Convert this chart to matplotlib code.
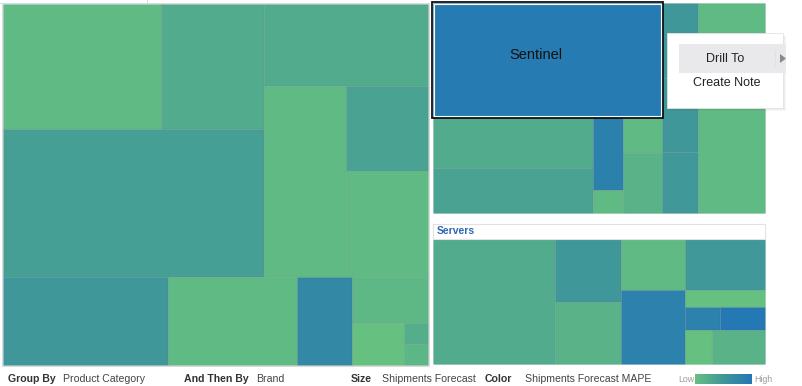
"""Shipments forecast treemap - grouped by product category, then by brand"""
import matplotlib
matplotlib.use("Agg")
import matplotlib.pyplot as plt
from matplotlib.patches import Rectangle, Polygon
from matplotlib.colors import LinearSegmentedColormap, Normalize
import numpy as np

plt.rcParams["font.family"] = ["Liberation Sans", "DejaVu Sans"]

# =============================================
#  Data (size = Shipments Forecast, color = MAPE %)
# =============================================
# group 1 (left, header cut off)
g1_ship = [198, 129, 386, 134, 157, 70, 87, 145, 113, 48, 35, 22, 5, 5]
g1_mape = [11.5, 15.2, 18.2, 15.2, 11.5, 17.2, 11.5, 20.0, 11.5, 24.4, 12.0, 10.0, 14.4, 12.4]

# group 2 (top right) - first brand is Sentinel
g2_brands = ["Sentinel", "", "", "", "", "", "", "", "", "", ""]
g2_ship = [261, 82, 72, 22, 7, 14, 23, 27, 27, 22, 141]
g2_mape = [28.8, 15.2, 17.2, 26.8, 11.5, 11.5, 13.4, 20.0, 20.0, 19.8, 11.5]

# group 3: Servers
g3_name = "Servers"
g3_ship = [152, 42, 41, 32, 47, 41, 14, 8, 10, 9.5, 18]
g3_mape = [15.2, 20.0, 13.4, 11.5, 26.6, 19.8, 10.0, 26.6, 29.6, 10.0, 13.4]

mape_min, mape_max = 10, 30

# split trees: ("h", ...) = side by side, ("v", ...) = stacked, int = leaf index
g1_tree = ("v", [("h", [("v", [("h", [0, 1]), 2]),
                        ("v", [3, ("h", [4, ("v", [5, 6])])])]),
                 ("h", [7, 8, 9, ("v", [10, ("h", [11, ("v", [12, 13])])])])])
g2_tree = ("h", [("v", [0, ("h", [("v", [1, 2]), ("v", [3, 4]), ("v", [5, 6])])]),
                 ("v", [7, 8, 9]), 10])
g3_tree = ("h", [0, ("v", [1, 2]), ("v", [3, 4]),
                 ("v", [5, 6, ("h", [7, 8]), ("h", [9, 10])])])

cmap = LinearSegmentedColormap.from_list("mape", ["#66c080", "#3f9799", "#2377b5"])
norm = Normalize(mape_min, mape_max)


def total(node, sizes):
    if isinstance(node, int):
        return sizes[node]
    return sum(total(c, sizes) for c in node[1])


def layout(node, sizes, x, y, w, h, out):
    if isinstance(node, int):
        out[node] = (x, y, w, h)
        return
    direction, children = node
    tots = [total(c, sizes) for c in children]
    s = sum(tots)
    for c, t in zip(children, tots):
        if direction == "h":
            cw = w * t / s
            layout(c, sizes, x, y, cw, h, out)
            x += cw
        else:
            ch = h * t / s
            layout(c, sizes, x, y, w, ch, out)
            y += ch


def draw_group(ax, tree, sizes, mape, box):
    rects = {}
    layout(tree, sizes, *box, rects)
    for i, (x, y, w, h) in rects.items():
        ax.add_patch(Rectangle((x, y), w, h, facecolor=cmap(norm(mape[i])),
                               edgecolor=(0, 0, 0, 0.07), linewidth=0.8))
    return rects


fig = plt.figure(figsize=(8.02, 3.86), dpi=100)
ax = fig.add_axes([0, 0, 1, 1])
ax.set_xlim(0, 802)
ax.set_ylim(386, 0)
ax.axis("off")

# group frames
ax.add_patch(Rectangle((2, 3), 427, 363, facecolor="none", edgecolor="#dcdcdc", linewidth=0.8))
ax.plot([0, 147, 147], [2.5, 2.5, 0], color="#cfe0f2", linewidth=0.8)

draw_group(ax, g1_tree, g1_ship, g1_mape, (3, 4, 425, 361))
r2 = draw_group(ax, g2_tree, g2_ship, g2_mape, (433, 3, 332, 210))
draw_group(ax, g3_tree, g3_ship, g3_mape, (433, 239, 332, 125))

# selected brand: Sentinel
x, y, w, h = r2[0]
ax.add_patch(Rectangle((x - 0.8, y - 0.8), w + 1.6, h + 1.6, facecolor="none",
                       edgecolor="#111111", linewidth=1.3, zorder=4))
ax.add_patch(Rectangle((x + 1.0, y + 1.0), w - 2.0, h - 2.0, facecolor="none",
                       edgecolor="white", linewidth=0.8, zorder=5))
ax.text(536, y + 52, g2_brands[0], ha="center", va="center",
        fontsize=10.5, color="#111111", zorder=5)

# Servers header
ax.add_patch(Rectangle((433, 223.5), 332, 15, facecolor="white", edgecolor="#e2e2e2", linewidth=0.8))
ax.text(437, 231, g3_name, ha="left", va="center", fontsize=7.5,
        fontweight="bold", color="#2a68b0")

# context menu
for k, a in enumerate([0.05, 0.04, 0.03]):
    ax.add_patch(Rectangle((667 + k + 1, 33 + k + 1), 116, 75, facecolor=(0, 0, 0, a),
                           edgecolor="none", zorder=6))
ax.add_patch(Rectangle((667, 33), 116, 75, facecolor="white", edgecolor="#e4e4e4",
                       linewidth=0.6, zorder=7))
ax.add_patch(Rectangle((679, 44), 107, 29, facecolor="#e9e9eb", edgecolor="none", zorder=8))
ax.text(725, 58.5, "Drill To", ha="center", va="center", fontsize=9, color="#222222", zorder=9)
ax.text(727, 82.5, "Create Note", ha="center", va="center", fontsize=9, color="#222222", zorder=9)
ax.plot([775, 775], [50, 67], color="#d4d4d4", linewidth=0.6, linestyle=":", zorder=9)
ax.add_patch(Polygon([[780, 54], [780, 63], [786, 58.5]], closed=True,
                     facecolor="#8a8a8a", edgecolor="none", zorder=9))

# bottom bar
ty = 379.5
fs = 7.6
ax.text(8, ty, "Group By", fontsize=fs, fontweight="bold", color="#333333", va="center")
ax.text(63, ty, "Product Category", fontsize=fs, color="#444444", va="center")
ax.text(184, ty, "And Then By", fontsize=fs, fontweight="bold", color="#333333", va="center")
ax.text(256, ty, "Brand", fontsize=fs, color="#444444", va="center")
ax.text(351, ty, "Size", fontsize=fs, fontweight="bold", color="#333333", va="center")
ax.text(382, ty, "Shipments Forecast", fontsize=fs, color="#444444", va="center")
ax.text(485, ty, "Color", fontsize=fs, fontweight="bold", color="#333333", va="center")
ax.text(525, ty, "Shipments Forecast MAPE", fontsize=fs, color="#444444", va="center")
ax.text(694, ty, "Low", fontsize=6.3, color="#9a9a9a", va="center", ha="right")
ax.text(754, ty, "High", fontsize=6.3, color="#9a9a9a", va="center", ha="left")
grad = np.linspace(mape_min, mape_max, 200).reshape(1, -1)
ax.imshow(grad, cmap=cmap, norm=norm, extent=(695, 752, 384.5, 375), aspect="auto")
ax.set_xlim(0, 802)
ax.set_ylim(386, 0)

fig.savefig("out.png", dpi=100)
plt.close(fig)
